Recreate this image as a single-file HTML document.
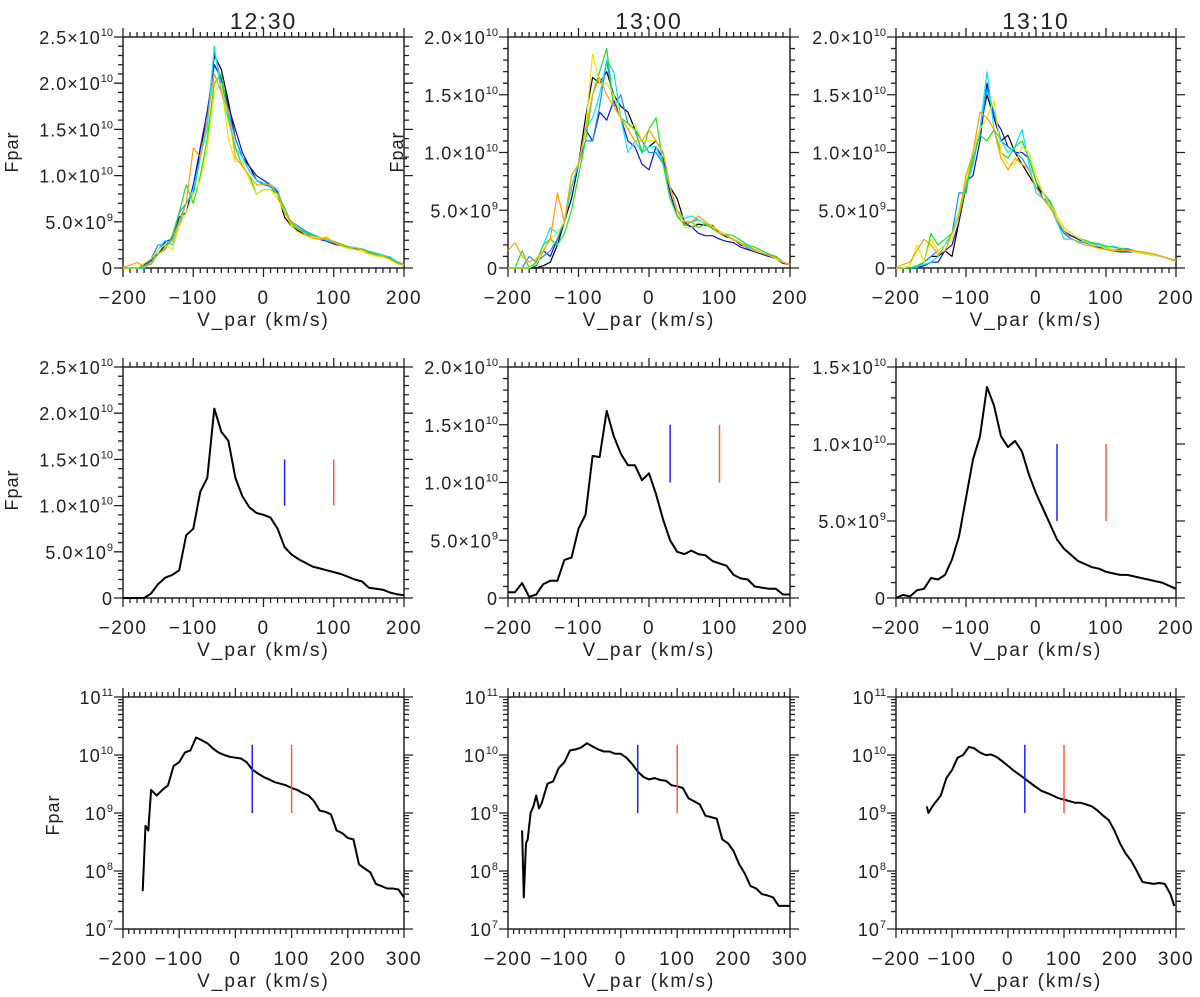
<!DOCTYPE html>
<html><head><meta charset="utf-8"><style>
html,body{margin:0;padding:0;background:#fff;}
svg{display:block;font-family:"Liberation Sans",sans-serif;}
</style></head><body>
<svg id="fig" width="1200" height="997" viewBox="0 0 1200 997" xmlns="http://www.w3.org/2000/svg"></svg>
<script>
// ---- data (units of 1e9) ----
const xLin = [-200,-190,-180,-170,-160,-150,-140,-130,-120,-110,-100,-90,-80,-70,-60,-50,-40,-30,-20,-10,0,10,20,30,40,50,60,70,80,90,100,110,120,130,140,150,160,170,180,190,200];
const seriesColors = ['#000000','#1010e0','#1090ff','#00e8ff','#20e020','#e8e800','#ffa000'];
const p1230_black=[0,0,0,0.3,1,1.5,2.5,3,5,7,8,13,16,23,21.5,18,14,12,11,9.5,9,9,8,5.5,4.5,4,3.6,3.4,3.2,3,2.7,2.5,2.3,2.2,2,1.7,1.5,1.3,1,0.6,0.4];
const p1230_blue=[0,0,0,0.2,0.8,2,2.8,3.2,5.5,6,9,13,17,22,20.5,17.5,15,12.5,11,10,9.5,9,8.2,6,4.8,4.2,3.8,3.5,3.1,2.9,2.6,2.4,2.3,2.1,2,1.8,1.6,1.4,1.1,0.6,0.4];
const p1230_sky=[0,0,0,0.2,1,2.5,2.5,3,6,7,8,12,16,23.5,20,17,14,12,10.5,9.5,9,8.8,8,6,5,4.5,4,3.6,3.3,3,2.7,2.5,2.3,2.2,2,1.7,1.5,1.3,1.2,0.6,0.4];
const p1230_cyan=[0,0,0,0,0.5,2,3,2.5,4.5,7,8.5,12,15,24,19,16,13,12,10.5,9.5,9.2,9,8.5,6,5,4.4,3.8,3.4,3.2,3,2.8,2.6,2.3,2.2,2.1,1.8,1.6,1.4,1.2,0.7,0.4];
const p1230_green=[0,0,0,0.2,0.4,1.5,2,3.5,6,9,7,10,14,20,21,16.5,13,11,10,8,8.5,8.5,8,6.5,4.8,4.2,3.9,3.5,3.3,3.2,2.9,2.6,2.3,2.2,2,1.8,1.5,1.3,1,0.6,0.4];
const p1230_yellow=[0,0,0,0.5,1,2,2.5,2,4.5,6,8,9.5,13,19,20,14,11.5,11.5,9.5,8,8.5,8.5,7.5,6,4.5,3.8,3.5,3.4,3.2,3.4,2.8,2.4,2.1,2,1.8,1.5,1.3,1.2,0.9,0.5,0.3];
const p1230_orange=[0.1,0.3,0.6,0.2,0.5,1.5,2.2,3,5,7,13,12,16,21,19,17,12,11,10,9,9,9,8,6,5,4.2,3.6,3.2,3.1,3.2,2.8,2.5,2.2,2.2,2,1.6,1.4,1.3,1,0.5,0.3];
const p1300_black=[0,0,0,0,0,0.2,0.5,2,4,6,9,13,16.5,16,17,15,14,13.5,12,10,10.5,11,10,7,6,4,3.5,3.8,3.7,3.7,3,2.7,2.5,2,1.8,1.5,1.2,1,1,0.5,0.3];
const p1300_blue=[0,0,0,0,0.2,1.5,1,2.5,4,7,9,12,11,13.5,12.8,14.5,13,11,10.5,9,8.5,10.5,9.5,6.5,4.5,3.8,3.6,3,2.8,2.8,2.5,2.3,2.2,1.8,1.6,1.4,1.2,1,0.8,0.4,0.3];
const p1300_sky=[0,0,0,1,0.5,1,1.5,2.5,4,7,9,11,11,14,18,14,15,12.5,12,11,10,10,9,7,5,4,4,4.2,3.8,3.4,3,2.8,2.5,2.1,1.7,1.5,1.3,1.1,0.9,0.5,0.3];
const p1300_cyan=[0,0,0,0,0.5,2,3.5,3,4,7,9,12,13,15,18,17,13,10,11,10,10.5,10.5,9,7,5,4.3,4.5,4.2,3.8,3.6,3.2,2.8,2.5,2.2,1.9,1.6,1.3,1.1,0.8,0.5,0.3];
const p1300_green=[0,0,1.5,0,0.5,2,2.5,2,3,5,8,11,15,17,19,14,13,12.5,12,10,12,13,9,6,4.5,3.7,4,3.5,3.8,3.4,3,2.9,2.8,2.4,2,1.8,1.5,1.2,1,0.5,0.3];
const p1300_yellow=[0,0,0,0,0.3,1.5,2.5,3,4,8,9,12,18.5,16,16,15,13,12,12.5,11,11,11,10,7,5,3.5,3.5,4,4,3.6,3.2,2.8,2.5,2.1,1.8,1.5,1.3,1.1,0.8,0.5,0.3];
const p1300_orange=[1.5,2.2,1,0.5,0.8,1.5,2.5,6.5,4,8,9,12,15,16.5,15,14,13,12,11,11,12,11,10,7,5,4,4,4.5,4,3.5,3,2.8,2.4,2.2,1.8,1.6,1.3,1.1,0.9,0.5,0.3];
const p1310_black=[0,0,0,0,0.5,1,1,1.5,1,4,7,9,12,15,13,11,11.5,10,9,8,7,6.5,5.5,4,3,2.8,2.5,2.2,2,1.8,1.6,1.5,1.4,1.4,1.4,1.3,1.2,1.1,1,0.8,0.6];
const p1310_blue=[0,0,0,0,0.2,0.5,0.5,1.5,2,4,7.5,8,11,16,13,12,10.5,10,10,9.5,7.5,6,5.5,4,3.2,2.8,2.5,2.2,2,1.8,1.6,1.5,1.4,1.4,1.4,1.3,1.2,1.1,1,0.8,0.6];
const p1310_sky=[0,0,0,0,0.5,1,1.5,2,3,6.5,6.5,10,12,15.5,13.5,11,10.5,10,9.5,8.5,7,6,5.8,4,3,2.5,2.3,2.2,2,1.9,1.7,1.6,1.6,1.7,1.5,1.3,1.2,1.1,1,0.8,0.6];
const p1310_cyan=[0,0,0,0.2,0.3,0.5,1,2,3,5,7,9,12,17,12,11,10,10.5,12,9,6.5,6,5.5,4,2.5,2.5,2.3,2.3,2.1,2,1.8,1.9,1.7,1.5,1.4,1.3,1.2,1.1,1,0.8,0.6];
const p1310_green=[0,0,0,0.2,0.5,3,2,2.5,3,4.5,7,9.5,11.5,11,12,10,9.5,10.5,11,9.5,7.5,6.5,5.8,4.5,3.5,3,2.6,2.4,2.2,2.1,1.9,1.8,1.7,1.6,1.5,1.4,1.3,1.1,1,0.8,0.7];
const p1310_yellow=[0,0,0.2,2,0.5,2.5,1.5,2,2.5,5,7.5,10,12,13,14.5,10,9,9,10.5,10,8,6.5,5.5,4.5,3.5,3,2.6,2.3,2,1.9,1.7,1.6,1.5,1.5,1.4,1.3,1.2,1.1,1,0.8,0.6];
const p1310_orange=[0,0.3,0.5,1.5,2.5,2,1.2,1.5,3,4.5,8,10,13.5,13,12,9.5,8.5,9.5,9,8.5,7,6,5.2,4.2,3.2,2.6,2.2,2,1.9,1.7,1.6,1.5,1.5,1.5,1.5,1.4,1.3,1.2,1,0.8,0.6];
const mean1230=[0,0,0,0,0.5,1.5,2.2,2.5,3,6.8,7.5,11.5,13,20.5,18,17,13,11,9.8,9.2,9,8.7,7.5,5.5,4.7,4.2,3.8,3.4,3.2,3,2.8,2.6,2.3,2,1.8,1.1,1.0,0.9,0.6,0.4,0.3];
const mean1300=[0.5,0.5,1.3,0.1,0.3,1.2,1.5,1.5,3.3,3.5,6,7.2,12.3,12.2,16.2,14,12.5,11.5,11.5,10.2,10.8,9,6.8,5,4,3.8,4.1,3.8,3.7,3.2,3,2.8,2,1.7,1.6,1,0.9,0.8,0.8,0.3,0.3];
const mean1310=[0,0.2,0.1,0.5,0.6,1.3,1.2,1.5,2.5,4,6.5,9,10.5,13.7,12.5,10.5,9.8,10.2,9.5,8,6.8,5.8,4.8,3.8,3.2,2.8,2.4,2.2,2,1.9,1.7,1.6,1.5,1.5,1.4,1.3,1.2,1.1,1,0.8,0.6];
const logX1230=[-165,-160,-155,-150,-140,-130,-120,-110,-100,-90,-80,-70,-60,-50,-40,-30,-20,-10,0,10,20,30,40,50,60,70,80,90,100,110,120,130,140,150,160,170,180,190,200,210,220,230,240,250,260,270,280,290,300];
const logY1230=[0.045,0.6,0.5,2.5,2,2.5,3,6.5,7.5,11,12,20,18,16,13,11,10,9.3,9,8.7,7.5,5.6,4.8,4.2,3.8,3.4,3.2,3,2.7,2.5,2.2,2,1.6,1.1,1.05,0.95,0.5,0.45,0.37,0.35,0.13,0.11,0.095,0.06,0.055,0.05,0.05,0.048,0.035];
const logX1300=[-175,-172,-168,-165,-160,-155,-150,-145,-140,-130,-120,-110,-100,-90,-80,-70,-60,-50,-40,-30,-20,-10,0,10,20,30,40,50,60,70,80,90,100,110,120,130,140,150,160,170,180,190,200,210,220,230,240,250,260,270,280,300];
const logY1300=[0.5,0.035,0.3,0.35,1,1.3,2,1.2,1.5,3.2,3.5,6,7.5,12,12.5,13.5,16,14,12.5,11.5,11.5,10.5,10.5,9,7,5.2,4.2,3.8,4,3.7,3.6,3,2.9,2.7,1.8,1.6,1.4,0.9,0.85,0.8,0.35,0.3,0.22,0.13,0.09,0.055,0.05,0.04,0.038,0.035,0.025,0.025];
const logX1310=[-145,-142,-135,-130,-120,-110,-100,-90,-80,-70,-60,-50,-40,-30,-20,-10,0,10,20,30,40,50,60,70,80,90,100,110,120,130,140,150,160,170,180,190,200,210,220,230,240,250,260,270,280,290,297];
const logY1310=[1.3,1,1.3,1.5,2,4,5.5,9,10,13.8,13,11,10,10.2,9.2,7.8,6.5,5.4,4.6,3.9,3.3,2.8,2.4,2.2,2.0,1.8,1.7,1.6,1.5,1.5,1.4,1.3,1.1,0.9,0.75,0.5,0.3,0.2,0.15,0.1,0.065,0.062,0.06,0.062,0.06,0.04,0.025];
const titles=['12:30','13:00','13:10'];
const linMax=[[25,20,20],[25,20,15]];
const markerVel=[30,100];
const markerRange2=[[10,15],[10,15],[5,10]];
const markerRange3=[1,15];

// ---- layout ----
const NS='http://www.w3.org/2000/svg';
const svg=document.getElementById('fig');
const colX=[123,508,896], colW=[281,282,280];
const rowY=[[37,268],[367,598],[697,929]];
const LAB={'font-size':18,'letter-spacing':1,fill:'#222'};
function el(tag,attrs,parent){const e=document.createElementNS(NS,tag);for(const k in attrs)e.setAttribute(k,attrs[k]);(parent||svg).appendChild(e);return e;}
function sciLabel(g,x,y,v){
  const t=el('text',Object.assign({x:x,y:y,'text-anchor':'end'},LAB),g);
  
  
  if(v===0){t.textContent='0';return;}
  const e=Math.floor(Math.log10(v)+1e-9), m=v/Math.pow(10,e);
  const a=el('tspan',{},t);a.textContent=m.toFixed(1)+'\u00d710';
  const b=el('tspan',{dy:-8,'font-size':11,'letter-spacing':0},t);b.textContent=String(e);
}
function powLabel(g,x,y,e){
  const t=el('text',Object.assign({x:x,y:y,'text-anchor':'end'},LAB),g);
  
  
  const a=el('tspan',{},t);a.textContent='10';
  const b=el('tspan',{dy:-8,'font-size':11,'letter-spacing':0},t);b.textContent=String(e);
}
function panel(r,c){
  const g=el('g',{});
  
  
  const x0=colX[c],x1=x0+colW[c],yT=rowY[r][0],yB=rowY[r][1];
  const isLog=r===2, xmin=-200, xmax=isLog?300:200;
  const sx=v=>x0+(v-xmin)/(xmax-xmin)*(x1-x0);
  let sy;
  if(isLog){sy=v=>yB-(Math.log10(v*1e9)-7)/4*(yB-yT);}
  else{const ym=linMax[r][c];sy=v=>yB-v/ym*(yB-yT);}
  let d='';
  for(let v=xmin;v<=xmax;v+=10){const X=sx(v),L=(v%100===0)?9:5;d+=`M${X},${yB}v${L}M${X},${yT}v${-L}`;}
  if(isLog){
    for(let e=7;e<=11;e++){const Y=sy(Math.pow(10,e-9));d+=`M${x0},${Y}h-9M${x1},${Y}h9`;
      if(e<11)for(let k=2;k<10;k++){const Yk=sy(k*Math.pow(10,e-9));d+=`M${x0},${Yk}h-5M${x1},${Yk}h5`;}}
  }else{
    const ym=linMax[r][c];
    for(let v=0;v<=ym+1e-9;v+=1){const Y=sy(v),L=(v%5===0)?9:5;d+=`M${x0},${Y}h${-L}M${x1},${Y}h${L}`;}
  }
  const tk=el('path',{d:d,stroke:'#222','stroke-width':1.3,fill:'none'},g);
  
  
  const bx=el('rect',{x:x0,y:yT,width:x1-x0,height:yB-yT,fill:'none',stroke:'#222','stroke-width':1.5},g);
  
  
  for(let v=xmin;v<=xmax;v+=100){
    const t=el('text',Object.assign({x:sx(v),y:yB+36,'text-anchor':'middle'},LAB,{'font-size':19,'letter-spacing':1.5}),g);
    
    
    t.textContent=(v<0?'\u2212':'')+Math.abs(v);
  }
  const xt=el('text',Object.assign({x:(x0+x1)/2,y:yB+58,'text-anchor':'middle'},LAB,{'font-size':19,'letter-spacing':2}),g);
  
  
  xt.textContent='V_par (km/s)';
  if(isLog){for(let e=7;e<=11;e++)powLabel(g,x0-10,sy(Math.pow(10,e-9))+7,e);}
  else{const ym=linMax[r][c];for(let v=0;v<=ym+1e-9;v+=5)sciLabel(g,x0-10,sy(v)+7,v*1e9);}
  return {g,sx,sy,x0,x1,yT,yB};
}
function line(g,xs,ys,color,w,name){
  let d='';xs.forEach((x,i)=>{d+=(i?'L':'M')+ P.sx(x).toFixed(1)+','+P.sy(ys[i]).toFixed(1);});
  const p=el('path',{d:d,stroke:color,'stroke-width':w,fill:'none','stroke-linejoin':'round'},g);
  
  
}
let P;
const rows1=[[p1230_black,p1230_blue,p1230_sky,p1230_cyan,p1230_green,p1230_yellow,p1230_orange],
             [p1300_black,p1300_blue,p1300_sky,p1300_cyan,p1300_green,p1300_yellow,p1300_orange],
             [p1310_black,p1310_blue,p1310_sky,p1310_cyan,p1310_green,p1310_yellow,p1310_orange]];
const means=[mean1230,mean1300,mean1310];
const logXs=[logX1230,logX1300,logX1310], logYs=[logY1230,logY1300,logY1310];
for(let c=0;c<3;c++){
  P=panel(0,c);
  const tt=el('text',{x:(P.x0+P.x1)/2,y:29,'text-anchor':'middle','font-size':23,'letter-spacing':2,fill:'#222'});
  
  
  tt.textContent=titles[c];
  rows1[c].forEach((s,i)=>line(P.g,xLin,s,seriesColors[i],1.2,'series-line'));
  P=panel(1,c);
  line(P.g,xLin,means[c],'#000',2,'mean-profile');
  markerVel.forEach((v,i)=>{
    const m=el('line',{x1:P.sx(v),x2:P.sx(v),y1:P.sy(markerRange2[c][0]),y2:P.sy(markerRange2[c][1]),stroke:i?'#ff5a3a':'#2020ff','stroke-width':1.5},P.g);
    
    
  });
  P=panel(2,c);
  line(P.g,logXs[c],logYs[c],'#000',2,'log-profile');
  markerVel.forEach((v,i)=>{
    const m=el('line',{x1:P.sx(v),x2:P.sx(v),y1:P.sy(markerRange3[0]),y2:P.sy(markerRange3[1]),stroke:i?'#ff5a3a':'#2020ff','stroke-width':1.5},P.g);
    
    
  });
}
[[12,152],[397,152],[12,490],[53,815]].forEach(p=>{
  const t=el('text',{x:p[0],y:p[1],'text-anchor':'middle','font-size':18,'letter-spacing':1,fill:'#222',transform:`rotate(-90 ${p[0]} ${p[1]})`,dy:6});
  
  
  t.textContent='Fpar';
});
</script>
</body></html>
